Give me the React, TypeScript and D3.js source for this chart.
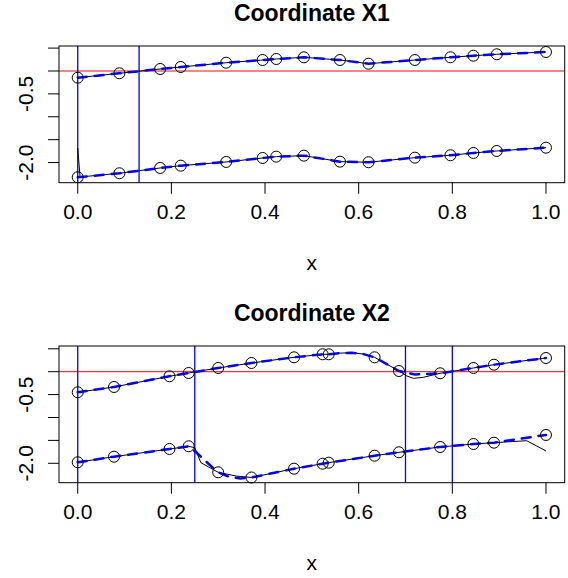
import React from "react";
import * as d3 from "d3";

// ---------- data ----------
const titles = ["Coordinate X1", "Coordinate X2"];
const xTicks = [0, 0.2, 0.4, 0.6, 0.8, 1.0];
const yTicks = [-2, -1.5, -1, -0.5, 0, 0.5];
const yTickLabels = ["-2.0", "", "", "-0.5", "", ""];

const p1X = [0, 0.089, 0.176, 0.22, 0.317, 0.395, 0.424, 0.483, 0.56, 0.621, 0.72, 0.796, 0.845, 0.895, 1.0];
const p1Upper = [-0.146, -0.05, 0.044, 0.087, 0.181, 0.24, 0.262, 0.299, 0.24, 0.159, 0.24, 0.299, 0.334, 0.365, 0.415];
const p1Lower = [-2.321, -2.234, -2.118, -2.068, -1.987, -1.9, -1.871, -1.849, -1.98, -1.993, -1.893, -1.841, -1.79, -1.747, -1.675];
// extra fitted-curve knots (black solid fit)
const p1LowerBlackStartX = [0, 0.005];
const p1LowerBlackStartY = [-1.68, -2.315];
const p1VLines = [0, 0.131];

const p2X = [0, 0.0775, 0.196, 0.237, 0.3, 0.371, 0.462, 0.523, 0.536, 0.634, 0.686, 0.774, 0.845, 0.889, 1.0];
const p2Upper = [-0.45, -0.334, -0.1, -0.028, 0.081, 0.19, 0.314, 0.38, 0.38, 0.314, 0.015, -0.035, 0.081, 0.153, 0.299];
const p2Lower = [-1.978, -1.856, -1.688, -1.629, -2.197, -2.31, -2.118, -2.009, -1.987, -1.834, -1.76, -1.644, -1.579, -1.55, -1.382];
// shared peak knots on upper curve
const p2PeakX = [0.56, 0.585, 0.61];
const p2PeakY = [0.405, 0.415, 0.385];
// black upper dip knots
const p2UpperBlackDipX = [0.703, 0.717, 0.738];
const p2UpperBlackDipY = [-0.094, -0.145, -0.123];
// blue upper sag knot
const p2UpperBlueSagX = [0.72];
const p2UpperBlueSagY = [-0.06];
// black lower knots
const p2LowerBlackKnotX = [0.25, 0.263, 0.339, 0.959, 1.0];
const p2LowerBlackKnotY = [-1.66, -1.987, -2.28, -1.507, -1.731];
// blue lower knots
const p2LowerBlueKnotX = [0.243, 0.254, 0.275, 0.29, 0.322, 0.347];
const p2LowerBlueKnotY = [-1.67, -1.77, -1.97, -2.11, -2.29, -2.33];
const p2VLines = [0, 0.25, 0.7, 0.8];

const yDomains: [number, number][] = [
  [-2.44, 0.546],
  [-2.424, 0.561],
];
const xDomain: [number, number] = [-0.04, 1.04];

type Pt = [number, number];
const zip = (xs: number[], ys: number[]): Pt[] => xs.map((x, i) => [x, ys[i]]);
const merge = (...parts: Pt[][]): Pt[] => parts.flat().sort((a, b) => a[0] - b[0]);

const panels = [
  {
    title: titles[0],
    yDomain: yDomains[0],
    vlines: p1VLines,
    redColor: "#ff5a5a",
    redWidth: 1.6,
    points: [zip(p1X, p1Upper), zip(p1X, p1Lower)],
    black: [zip(p1X, p1Upper), merge(zip(p1LowerBlackStartX, p1LowerBlackStartY), zip(p1X.slice(1), p1Lower.slice(1)))],
    blue: [zip(p1X, p1Upper), zip(p1X, p1Lower)],
  },
  {
    title: titles[1],
    yDomain: yDomains[1],
    vlines: p2VLines,
    redColor: "#ff0000",
    redWidth: 1,
    points: [zip(p2X, p2Upper), zip(p2X, p2Lower)],
    black: [
      merge(zip(p2X, p2Upper), zip(p2PeakX, p2PeakY), zip(p2UpperBlackDipX, p2UpperBlackDipY)),
      merge(zip(p2X.slice(0, 14), p2Lower.slice(0, 14)), zip(p2LowerBlackKnotX, p2LowerBlackKnotY)),
    ],
    blue: [
      merge(zip(p2X, p2Upper), zip(p2PeakX, p2PeakY), zip(p2UpperBlueSagX, p2UpperBlueSagY)),
      merge(zip(p2X, p2Lower), zip(p2LowerBlueKnotX, p2LowerBlueKnotY)),
    ],
  },
];

// ---------- layout ----------
const W = 568;
const H = 578;
const box = { left: 59, right: 564.7 };
const panelTop = [46, 346];
const panelH = 136.7;
const font = "'Liberation Sans', Arial, Helvetica, sans-serif";
const axisFs = 21;
const titleFs = 23;

function Panel({ p, top }: { p: (typeof panels)[number]; top: number }) {
  const bottom = top + panelH;
  const x = d3.scaleLinear().domain(xDomain).range([box.left, box.right]);
  const y = d3.scaleLinear().domain(p.yDomain).range([bottom, top]);
  const line = d3
    .line<Pt>()
    .x((d) => x(d[0]))
    .y((d) => y(d[1]))
    .curve(d3.curveLinear);
  const cx = (box.left + box.right) / 2;
  return (
    <g>
      <text x={cx} y={top - 25} textAnchor="middle" fontFamily={font} fontWeight="bold" fontSize={titleFs}>
        {p.title}
      </text>
      {/* red reference line */}
      <line x1={box.left} x2={box.right} y1={y(0)} y2={y(0)} stroke={p.redColor} strokeWidth={p.redWidth} />
      {/* blue verticals */}
      {p.vlines.map((v, i) => (
        <line key={i} x1={x(v)} x2={x(v)} y1={top} y2={bottom} stroke="#0000ff" strokeWidth={1.3} />
      ))}
      {p.black.map((s, i) => (
        <path key={"k" + i} d={line(s) || ""} fill="none" stroke="#000" strokeWidth={1} />
      ))}
      {p.blue.map((s, i) => (
        <path
          key={"b" + i}
          d={line(s) || ""}
          fill="none"
          stroke="#0000ff"
          strokeWidth={2.5}
          strokeDasharray="9,8"
          strokeLinecap="round"
        />
      ))}
      {p.points.map((s, i) =>
        s.map((d, j) => (
          <circle key={i + "-" + j} cx={x(d[0])} cy={y(d[1])} r={5.5} fill="none" stroke="#000" strokeWidth={1} />
        ))
      )}
      {/* box */}
      <rect x={box.left} y={top} width={box.right - box.left} height={panelH} fill="none" stroke="#000" strokeWidth={1} />
      {/* x axis */}
      {xTicks.map((t) => (
        <g key={t}>
          <line x1={x(t)} x2={x(t)} y1={bottom} y2={bottom + 11} stroke="#000" />
          <text x={x(t)} y={bottom + 36} textAnchor="middle" fontFamily={font} fontSize={axisFs}>
            {t.toFixed(1)}
          </text>
        </g>
      ))}
      <text x={cx} y={bottom + 87} textAnchor="middle" fontFamily={font} fontSize={axisFs}>
        x
      </text>
      {/* y axis */}
      {yTicks.map((t, i) => (
        <g key={t}>
          <line x1={box.left - 11} x2={box.left} y1={y(t)} y2={y(t)} stroke="#000" />
          {yTickLabels[i] && (
            <text
              transform={`translate(${box.left - 26},${y(t)}) rotate(-90)`}
              textAnchor="middle"
              fontFamily={font}
              fontSize={axisFs}
            >
              {yTickLabels[i]}
            </text>
          )}
        </g>
      ))}
    </g>
  );
}

export default function App() {
  return (
    <svg
      width={W}
      height={H}
      style={{ position: "absolute", left: 0, top: 0, background: "#fff" }}
    >
      <rect width={W} height={H} fill="#fff" />
      {panels.map((p, i) => (
        <Panel key={i} p={p} top={panelTop[i]} />
      ))}
    </svg>
  );
}
